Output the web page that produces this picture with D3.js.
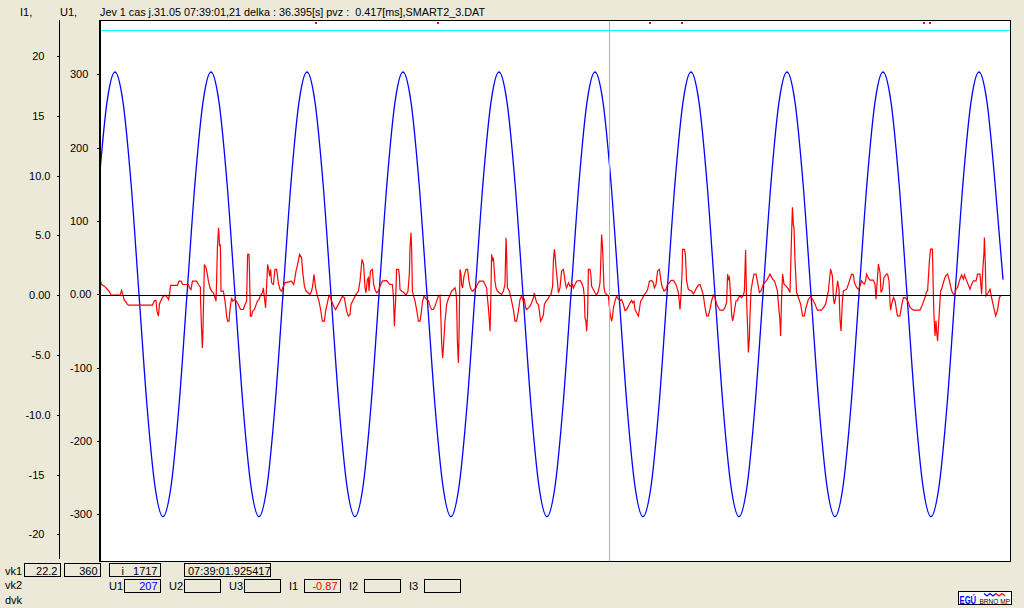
<!DOCTYPE html>
<html><head><meta charset="utf-8">
<script src="https://cdn.jsdelivr.net/npm/d3@7"></script>
<style>
html,body{margin:0;padding:0;background:#ECE9D8;overflow:hidden}
svg{display:block}
text{font-family:"Liberation Sans",Arial,sans-serif;font-size:11px;fill:#000}
</style></head><body>
<svg id="c" width="1024" height="608"></svg>
<script>
// ---------- data ----------
const titleText = "Jev 1 cas j.31.05 07:39:01,21 delka : 36.395[s] pvz :  0.417[ms],SMART2_3.DAT";
const axisNames = ["I1,", "U1,"];
const i1Ticks = [-20, -15, -10, -5, 0, 5, 10, 15, 20];
const i1Labels = ["-20", "-15", "-10.0", "-5.0", "0.00", "5.0", "10.0", "15", "20"];
const u1Ticks = [-300, -200, -100, 0, 100, 200, 300];
const u1Labels = ["-300", "-200", "-100", "0.00", "100", "200", "300"];
const sampleDomain = [1462.5, 1917.5];      // sample index range shown
const cursorSample = 1717;                   // vertical cursor
const cursorLevelI = 22.2;                   // horizontal cursor (vk1)
const markerSamples = [1570.5, 1631.5, 1737.5, 1753.5, 1874.5, 1877.5];

// U1 voltage, one value every 4 samples starting at sample 1462
const blueStart = 1462, blueStep = 4;
const blueV = [
  152,262,303,262,152,0,-152,-262,-303,-262,-152,0,
  152,262,303,262,152,0,-152,-262,-303,-262,-152,0,
  152,262,303,262,152,0,-152,-262,-303,-262,-152,0,
  152,262,303,262,152,0,-152,-262,-303,-262,-152,0,
  152,262,303,262,152,0,-152,-262,-303,-262,-152,0,
  152,262,303,262,152,0,-152,-262,-303,-262,-152,0,
  152,262,303,262,152,0,-152,-262,-303,-262,-152,0,
  152,262,303,262,152,0,-152,-262,-303,-262,-152,0,
  152,262,303,262,152,0,-152,-262,-303,-262,-152,0,
  152,262,303,262,152,20
];

// I1 current: [sample, amps]
const redPts = [
[1462.5,1.3],[1463.3,0.89],[1464.7,0.75],[1465.5,0.61],[1466.3,0.47],[1467,0.34],[1467.5,0.2],[1468,0],
[1472.5,0],[1473.3,0.39],[1474,0],[1474.7,-0.45],[1475.3,-0.5],[1476,-0.73],[1476.7,-0.84],[1488.7,-0.84],
[1489.7,-0.45],[1490.5,-0.45],[1491,-1.34],[1491.7,-1.76],[1492.2,-0.78],[1492.8,-0.5],[1493.8,-0.17],[1495,0],
[1496.3,-0.22],[1496.8,-0.36],[1497.2,0],[1497.8,0.81],[1501.2,0.81],[1502,1.17],[1503,1.17],[1503.8,0.89],
[1506.7,0.89],[1507.3,0.61],[1508,0.47],[1508.7,1.17],[1510.8,1.17],[1511.7,0.89],[1512.7,0.67],[1512.8,-0.5],
[1513.3,-3.02],[1513.7,-4.41],[1514,-2.74],[1514.7,2.57],[1515.5,2.29],[1516.2,1.73],[1516.7,1.17],[1517.5,0.61],
[1518.3,0.34],[1519.2,0.2],[1520,-0.22],[1520.5,-0.5],[1520.8,1.17],[1521.2,3.97],[1521.8,5.64],[1522.3,4.1],
[1522.7,4.25],[1523,0.34],[1524.2,0.34],[1525,-0.5],[1525.5,-1.2],[1525.8,-1.76],[1526.3,-2.18],[1527,-2.18],
[1527.5,-1.2],[1527.8,-0.78],[1528.3,-0.22],[1528.8,-0.5],[1530,-0.36],[1531.2,-0.64],[1532,-0.92],[1532.8,-1.2],
[1534.2,-1.2],[1535,-0.78],[1535.8,-0.5],[1536.3,3.41],[1537,3.41],[1537.2,2.29],[1537.7,-1.76],[1538.3,-1.76],
[1538.8,-1.34],[1539.7,-1.2],[1540.3,-0.92],[1541.2,-0.5],[1542,-0.36],[1542.8,0],[1543.7,0.2],[1544.2,0.61],
[1544.7,-0.22],[1545.3,-1.06],[1545.8,0.75],[1546.3,2.57],[1547,2.01],[1547.3,1.59],[1547.8,2.15],[1548.3,1.03],
[1549.2,0.89],[1549.7,1.73],[1550,2.15],[1550.8,2.15],[1551.7,1.03],[1552.5,0.47],[1553.3,0.34],[1554.2,0.75],
[1555,1.03],[1558.3,1.17],[1559.3,0.89],[1559.7,1.17],[1560.5,2.01],[1561.3,2.57],[1562.3,3.41],[1563.3,3.13],
[1563.8,2.01],[1564.7,0.75],[1565.5,0.34],[1567.5,0.06],[1568.3,0.34],[1568.8,0.75],[1569.5,1.73],[1570.3,0.61],
[1571.2,-0.08],[1572,-0.5],[1572.8,-1.2],[1573.7,-2.18],[1574.7,-2.18],[1575.3,-1.34],[1576.2,-0.64],[1577,0],
[1577.5,-0.08],[1578.3,-0.5],[1579.7,-1.06],[1580.3,-1.2],[1581.2,-0.92],[1582.5,-0.5],[1583.7,-0.08],[1584.7,-0.22],
[1585.8,-1.34],[1586.7,-1.76],[1587.5,-1.62],[1588,-0.78],[1589.2,-0.36],[1590.3,0],[1591.7,0.34],[1592.5,1.17],
[1593.5,2.99],[1594.3,2.57],[1595,0.61],[1595.5,0.2],[1596.2,1.31],[1596.7,1.45],[1597,0.34],[1597.7,2.01],
[1598.7,2.15],[1599.3,0.89],[1600,0.47],[1600.8,0.2],[1601.7,0.34],[1602.5,0.75],[1603.7,1.17],[1605.8,1.23],
[1606.7,1.03],[1607.5,0.89],[1608.7,0.89],[1609.2,-0.08],[1609.7,-2.6],[1610,-1.34],[1610.3,-0.5],[1610.8,2.15],
[1611.8,2.15],[1612.2,1.59],[1612.5,0.47],[1613.3,0.34],[1614.5,0.2],[1615.5,0],[1616.5,0.34],[1617.2,1.87],
[1617.5,3.97],[1618,5.22],[1618.3,3.97],[1618.7,0.34],[1619.2,0],[1620,-0.5],[1620.8,-1.2],[1621.7,-2.18],
[1622.5,-2.18],[1623,-1.62],[1623.8,-0.5],[1624.5,-0.08],[1625.8,-0.36],[1626.7,-0.45],[1627.5,-0.92],[1628.3,-1.2],
[1629.2,-1.2],[1630,-0.92],[1630.8,-0.5],[1631.7,-0.08],[1632.5,0],[1633,-2.18],[1633.3,-3.85],[1633.8,-5.25],
[1634.2,-4.41],[1635,-2.18],[1635.8,-0.78],[1636.7,-0.28],[1637.5,0],[1638.3,0.34],[1639.2,0.47],[1640,0.61],
[1640.5,0.2],[1640.8,-0.5],[1641.2,-3.85],[1641.7,-5.67],[1642,-3.58],[1642.5,2.15],[1643,1.73],[1643.3,0.89],
[1643.8,0.61],[1644.5,1.59],[1645.5,2.15],[1646.3,2.15],[1647,1.17],[1647.5,0.75],[1648,0.47],[1648.8,0.34],
[1649.7,0.47],[1650.5,0.61],[1651.2,0.89],[1652.2,1.17],[1654.2,1.17],[1655,0.89],[1655.8,0.61],[1656.2,-0.22],
[1656.7,-1.06],[1657.2,-2.18],[1657.5,-3.02],[1657.8,-1.34],[1658.3,3.41],[1658.8,2.85],[1659.2,3.13],[1660,1.17],
[1660.5,0.61],[1661.2,0.34],[1662.2,0.2],[1663.3,0.06],[1664.2,0.34],[1665,0.89],[1665.5,4.8],[1665.8,3.55],
[1666.2,0.61],[1667.2,0.34],[1667.8,-0.08],[1668.3,-0.5],[1669.2,-1.2],[1670,-2.18],[1670.8,-2.18],[1671.7,-1.34],
[1672.5,-0.36],[1673.3,-0.08],[1674.2,-0.5],[1674.7,-0.36],[1675.3,-1.06],[1675.8,-1.2],[1676.7,-1.06],[1677.5,-0.92],
[1678.3,-0.64],[1679.2,-0.22],[1679.7,0.2],[1680,-0.08],[1680.8,-0.64],[1681.7,-0.78],[1682.2,-1.34],[1682.8,-2.18],
[1683.7,-1.9],[1684.2,-1.62],[1684.7,-0.78],[1685.5,-0.5],[1686.3,-0.36],[1687.2,-0.08],[1688,0.06],[1688.8,0.75],
[1689.2,2.85],[1689.7,3.83],[1690,3.41],[1690.5,2.29],[1691.2,1.17],[1691.7,0.2],[1692.5,0.61],[1693.3,2.01],
[1694.2,2.15],[1694.7,1.59],[1695.3,0.89],[1695.8,0.61],[1696.7,1.03],[1697.5,0.75],[1698.8,0.89],[1699.2,0.61],
[1700,0.89],[1700.8,1.17],[1702.5,1.23],[1703.3,1.03],[1704.2,0.61],[1704.7,-0.22],[1705,-1.9],[1705.5,-2.18],
[1705.8,-3.02],[1706.3,-1.62],[1706.7,2.15],[1707.5,2.15],[1708,1.59],[1708.3,0.75],[1709.2,0.47],[1710,0.2],
[1710.8,0],[1711.7,0.34],[1712.5,1.03],[1712.8,2.29],[1713.3,5.08],[1713.8,3.97],[1714.5,0.61],[1715,0.2],
[1715.8,0.06],[1716.7,-0.08],[1717.5,-1.48],[1718.3,-2.18],[1718.8,-1.76],[1719.2,-1.06],[1720,-0.5],[1720.8,-0.08],
[1721.7,-0.36],[1722.5,-0.45],[1723.3,-0.36],[1724.2,-0.78],[1725,-1.28],[1725.8,-1.2],[1726.7,-0.92],[1727.5,-0.64],
[1728.3,-0.45],[1728.8,-0.64],[1729.5,-0.5],[1730,-1.2],[1730.8,-1.48],[1731.7,-1.76],[1732.2,-1.2],[1732.8,-0.5],
[1733.7,-0.28],[1734.5,0],[1735.5,0.2],[1736.3,0.47],[1737.2,1.17],[1738.3,1.23],[1739.2,1.03],[1739.7,0.61],
[1740.5,0.89],[1741.3,2.01],[1742.2,2.15],[1742.8,1.45],[1743.3,0.89],[1743.8,0.61],[1744.5,0.34],[1745.5,0.47],
[1746.2,0.89],[1747.2,1.03],[1748,1.23],[1749.2,1.23],[1750,1.03],[1750.8,0.75],[1751.7,0.2],[1752.2,-0.64],
[1752.5,-1.2],[1753,0.06],[1753.5,1.73],[1753.8,3.83],[1754.7,3.83],[1755.2,3.41],[1755.5,2.29],[1755.8,1.17],
[1756.7,0.47],[1758.3,0.34],[1759.2,0.11],[1760,0.34],[1760.8,0.61],[1761.7,0.84],[1762.5,0.89],[1763.3,0.5],
[1764.2,-0.06],[1765,-1.03],[1765.8,-1.73],[1766.7,-1.73],[1767.5,-1.17],[1768.3,-0.47],[1769.2,0],[1770,-0.2],
[1770.8,-0.75],[1771.7,-1.03],[1772.5,-1.26],[1774.2,-1.26],[1775,-1.03],[1775.8,-0.61],[1776.3,1.76],[1776.8,1.34],
[1777.2,1.48],[1777.8,0],[1778.3,-1.59],[1778.8,-2.15],[1779.2,-1.87],[1779.7,-1.31],[1780.5,-0.47],[1781.2,-0.47],
[1781.8,-0.2],[1782.5,-0.06],[1783.3,-0.2],[1784.2,0],[1784.7,0.36],[1785.3,3.77],[1785.8,-0.47],[1786.3,-2.71],
[1786.7,-4.8],[1787.2,-3.55],[1787.5,-1.73],[1788,0.36],[1788.8,1.2],[1789.5,1.76],[1790.5,1.76],[1791.3,1.06],
[1792.2,0.22],[1793,0.36],[1794.2,0.92],[1795,1.06],[1796.2,1.34],[1797.5,1.76],[1798.8,1.34],[1799.7,1.2],
[1800.5,0.78],[1801.2,0.36],[1802,-1.31],[1802.5,-2.15],[1802.8,-3.41],[1803.3,-0.2],[1803.8,1.76],[1804.5,0.92],
[1805.5,0.78],[1806.7,0.5],[1807.5,0.22],[1808.3,5.11],[1808.7,7.35],[1809.2,5.81],[1809.5,5.67],[1810,2.88],
[1810.8,0.22],[1811.7,-0.2],[1812.8,-0.75],[1813.8,-1.73],[1814.7,-1.73],[1815.5,-1.03],[1816.7,-0.34],[1817.8,-0.14],
[1818.8,-0.34],[1820,-0.75],[1821.2,-1.26],[1823.3,-1.26],[1824.5,-0.98],[1825.3,-0.75],[1826.7,0.36],[1827.2,1.2],
[1827.8,2.18],[1828.7,1.62],[1829.2,-0.2],[1829.7,-0.75],[1830.3,-0.2],[1831.3,1.2],[1832,0.5],[1832.5,-2.01],
[1833,-2.99],[1833.7,-0.47],[1834.2,0.36],[1835.8,0.5],[1836.7,0.92],[1837.5,1.34],[1838.3,1.76],[1839.2,1.7],
[1839.7,1.06],[1840.8,0.64],[1841.7,0.5],[1842.5,0.78],[1843.3,1.2],[1844.2,0.98],[1844.7,0.92],[1845.3,1.2],
[1845.8,1.76],[1846.7,1.42],[1847.5,1.26],[1849.2,1.26],[1850,0.92],[1850.5,-0.34],[1851.7,2.6],[1852.5,1.9],
[1853,0.22],[1853.8,0.5],[1854.5,1.48],[1855.8,1.76],[1856.3,1.76],[1857,1.2],[1857.5,-0.61],[1857.8,-1.26],
[1858.3,-0.75],[1859.2,-0.2],[1860,-0.47],[1861.2,-1.73],[1862.5,-1.73],[1863.3,-0.89],[1864.2,-0.2],[1865,-0.2],
[1865.8,-0.34],[1866.7,-0.61],[1867.5,-1.03],[1869.2,-1.26],[1872.5,-1.26],[1873.8,-0.75],[1875,-0.2],[1875.8,0.31],
[1876.3,0.36],[1877.2,2.88],[1877.8,3.85],[1878.7,3.85],[1879.2,-0.06],[1879.5,-1.73],[1880,-3.41],[1880.5,-2.15],
[1880.8,-2.99],[1881.3,-3.83],[1882.2,-1.31],[1882.8,0.36],[1883.3,0.5],[1884.2,1.06],[1885.3,1.62],[1886.3,1.76],
[1887.2,1.2],[1888.3,0.36],[1889.2,0.08],[1890,0.08],[1890.5,0.5],[1891.3,0.64],[1892.2,1.2],[1893.3,1.7],
[1894.2,1.34],[1894.7,1.7],[1895.5,1.34],[1896.2,1.06],[1897.5,0.5],[1898.3,0.92],[1899.2,1.2],[1900.5,1.2],
[1901.3,1.76],[1902.5,1.76],[1903.3,0.08],[1903.8,1.9],[1904.5,3.58],[1904.7,4.83],[1905.2,2.32],[1905.5,-0.06],
[1906.7,0.22],[1907.5,0.5],[1908.3,-0.2],[1909.2,-0.89],[1910.3,-1.73],[1911.2,-1.31],[1912.2,-0.2],[1912.8,-0.06]
];

// status bar
const vk1Values = ["22.2", "360", "i   1717", "07:39:01.925417"];
const channelNames = ["U1", "U2", "U3", "I1", "I2", "I3"];
const channelValues = ["207", "", "", "-0.87", "", ""];
const channelColors = ["#0000FF", "#000", "#000", "#FF0000", "#000", "#000"];
const rowNames = ["vk1", "vk2", "dvk"];

// ---------- drawing ----------
const svg = d3.select("#c");
const P = {l: 100, r: 1010, t: 20, b: 561};

const x = d3.scaleLinear().domain(sampleDomain).range([P.l, P.r]);
const yI = d3.scaleLinear().domain([-20, 20]).range([534.3, 56]);
const yU = d3.scaleLinear().domain([-300, 300]).range([514.4, 74.2]);

// header
svg.append("text").attr("x", 20).attr("y", 16).text(axisNames[0]);
svg.append("text").attr("x", 60).attr("y", 16).text(axisNames[1]);
svg.append("text").attr("x", 100).attr("y", 16).attr("xml:space", "preserve").style("white-space", "pre")
  .attr("textLength", 385).attr("lengthAdjust", "spacingAndGlyphs").text(titleText);

// plot background
svg.append("rect").attr("x", P.l).attr("y", P.t).attr("width", P.r - P.l).attr("height", P.b - P.t).attr("fill", "#fff");

// I1 axis
svg.append("line").attr("x1", 59.5).attr("x2", 59.5).attr("y1", P.t).attr("y2", 559)
  .attr("stroke", "#000").attr("shape-rendering", "crispEdges");
const gI = svg.append("g").attr("transform", "translate(59.5,0)")
  .call(d3.axisLeft(yI).tickValues(i1Ticks).tickFormat((d, k) => i1Labels[k]).tickSize(3).tickPadding(6));
gI.select(".domain").remove();
gI.selectAll(".tick line").attr("shape-rendering", "crispEdges");
gI.selectAll(".tick text")
  .attr("x", function() { return this.textContent.indexOf(".") >= 0 ? -9 : -15; });
gI.attr("font-size", null).attr("font-family", null);

// U1 axis
const gU = svg.append("g").attr("transform", "translate(99.5,0)")
  .call(d3.axisLeft(yU).tickValues(u1Ticks).tickFormat((d, k) => u1Labels[k]).tickSize(3));
gU.select(".domain").remove();
gU.selectAll(".tick line").attr("shape-rendering", "crispEdges");
gU.selectAll(".tick text").attr("text-anchor", "start").attr("x", -29.5);
gU.attr("font-size", null).attr("font-family", null);

// clip
svg.append("clipPath").attr("id", "clip").append("rect")
  .attr("x", P.l + 1).attr("y", P.t).attr("width", P.r - P.l - 1).attr("height", P.b - P.t);
const plot = svg.append("g").attr("clip-path", "url(#clip)");

// horizontal cursor level
plot.append("line").attr("x1", P.l).attr("x2", P.r).attr("y1", Math.round(yI(cursorLevelI)) + 0.5).attr("y2", Math.round(yI(cursorLevelI)) + 0.5)
  .attr("stroke", "#00FFFF").attr("shape-rendering", "crispEdges");

// markers
plot.selectAll("rect.mk").data(markerSamples).enter().append("rect").attr("class", "mk")
  .attr("x", d => Math.round(x(d)) - 1).attr("y", 22).attr("width", 2).attr("height", 2).attr("fill", "#FF0000");

// U1 trace
const blueData = blueV.map((v, k) => [blueStart + k * blueStep, v]);
plot.append("path").datum(blueData)
  .attr("d", d3.line().x(d => x(d[0])).y(d => yU(d[1])).curve(d3.curveMonotoneX))
  .attr("fill", "none").attr("stroke", "#0000FF").attr("stroke-width", 1.3);

// I1 trace
plot.append("path").datum(redPts)
  .attr("d", d3.line().x(d => x(d[0])).y(d => yI(d[1])))
  .attr("fill", "none").attr("stroke", "#FF0000").attr("stroke-width", 1.2);

// zero line
plot.append("line").attr("x1", P.l).attr("x2", P.r).attr("y1", Math.round(yI(0)) + 0.5).attr("y2", Math.round(yI(0)) + 0.5)
  .attr("stroke", "#000").attr("shape-rendering", "crispEdges");

// vertical cursor
plot.append("line").attr("x1", Math.round(x(cursorSample)) + 0.5).attr("x2", Math.round(x(cursorSample)) + 0.5)
  .attr("y1", P.t).attr("y2", P.b).attr("stroke", "#00FFFF").attr("shape-rendering", "crispEdges");

// frame
svg.append("path").attr("d", `M${P.l},${P.t + 0.5}H${P.r + 0.5}V${P.b + 0.5}H${P.l - 1}`)
  .attr("fill", "none").attr("stroke", "#000").attr("shape-rendering", "crispEdges");
svg.append("rect").attr("x", 99).attr("y", P.t).attr("width", 2).attr("height", P.b - P.t + 1).attr("fill", "#000");

// status bar
const rowY = [574.5, 589, 604];
rowNames.forEach((n, k) => svg.append("text").attr("x", 5).attr("y", rowY[k]).text(n));

function box(x0, x1, y0, y1) {
  svg.append("rect").attr("x", x0 + 0.5).attr("y", y0 + 0.5).attr("width", x1 - x0 - 1).attr("height", y1 - y0 - 1)
    .attr("fill", "none").attr("stroke", "#000").attr("shape-rendering", "crispEdges");
}
// vk1 row boxes
const vk1Boxes = [[24, 61], [64, 101], [109, 161], [184, 271]];
vk1Boxes.forEach((b, k) => {
  box(b[0], b[1], 563, 577);
  const t = svg.append("text").attr("y", 575).attr("xml:space", "preserve").style("white-space", "pre").text(vk1Values[k]);
  if (k < 3) t.attr("x", b[1] - 3.5).attr("text-anchor", "end");
  else t.attr("x", b[0] + 4);
});
// channel row
channelNames.forEach((n, k) => {
  const bx = 109 + k * 60;
  svg.append("text").attr("x", bx).attr("y", 589.5).text(n);
  box(bx + 15, bx + 52, 579, 593);
  svg.append("text").attr("x", bx + 48.5).attr("y", 590).attr("text-anchor", "end")
    .style("fill", channelColors[k]).text(channelValues[k]);
});

// logo
const lg = svg.append("g");
lg.append("rect").attr("x", 958.5).attr("y", 591.5).attr("width", 53).attr("height", 13)
  .attr("fill", "#fff").attr("stroke", "#000").attr("shape-rendering", "crispEdges");
lg.append("text").attr("transform", "translate(959.5,603.5) scale(0.7,1)")
  .style("fill", "#0000FF").style("font-weight", "bold").style("font-size", "11px").text("EGÚ");
lg.append("text").attr("transform", "translate(979.5,603.5) scale(0.82,1)")
  .style("font-size", "8px").text("BRNO MP");
lg.append("path").attr("d", "M984,593.5L987,596L990,593.5L993,596L996,593.5").attr("fill", "none").attr("stroke", "#0000FF").attr("stroke-width", 1.2);
lg.append("path").attr("d", "M996,593.5L999,596L1002,593.5L1005,596").attr("fill", "none").attr("stroke", "#FF0000").attr("stroke-width", 1.2);
</script>
</body></html>
